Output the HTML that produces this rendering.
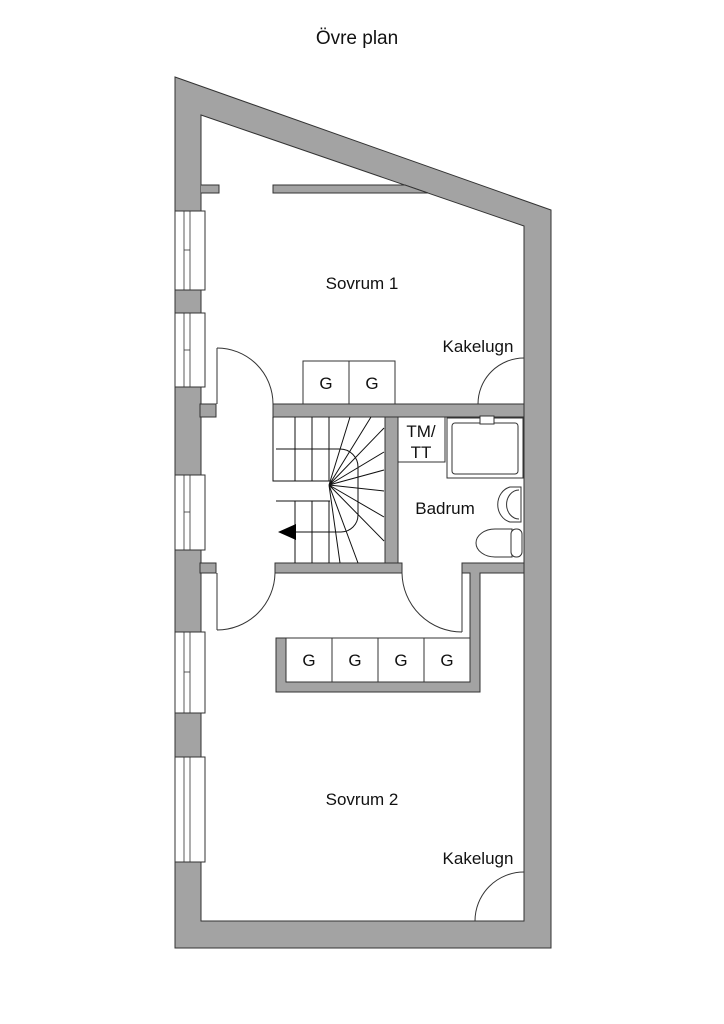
<!DOCTYPE html>
<html><head><meta charset="utf-8"><style>
html,body{margin:0;padding:0;background:#fff;}
svg{display:block;}
text{font-family:"Liberation Sans",sans-serif;fill:#111;}
</style></head><body>
<svg width="724" height="1024" viewBox="0 0 724 1024" xmlns="http://www.w3.org/2000/svg">
<rect width="724" height="1024" fill="#fff"/>
<text x="357" y="44" font-size="19" text-anchor="middle">Övre plan</text>
<g stroke="#333" stroke-width="1">
<!-- outer shell -->
<polygon points="175,77 551,210 551,948 175,948" fill="#a3a3a3"/>
<polygon points="201,115 524,226 524,921 201,921" fill="#fff"/>
<!-- top internal wall -->
<polygon points="273,185 405,185 428,193 273,193" fill="#a3a3a3"/>
<rect x="201" y="185" width="18" height="8" fill="#a3a3a3" stroke="none"/>
<polyline points="201,185 219,185 219,193 201,193" fill="none"/>
<!-- windows -->
<g fill="#fff">
<rect x="175" y="211" width="30" height="79"/>
<rect x="175" y="313" width="30" height="74"/>
<rect x="175" y="475" width="30" height="75"/>
<rect x="175" y="632" width="30" height="81"/>
<rect x="175" y="757" width="30" height="105"/>
</g>
<g fill="none" stroke-width="0.8">
<rect x="184" y="211" width="6" height="79"/><line x1="184" y1="250" x2="190" y2="250"/>
<rect x="184" y="313" width="6" height="74"/><line x1="184" y1="350" x2="190" y2="350"/>
<rect x="184" y="475" width="6" height="75"/><line x1="184" y1="512" x2="190" y2="512"/>
<rect x="184" y="632" width="6" height="81"/><line x1="184" y1="672" x2="190" y2="672"/>
<rect x="184" y="757" width="6" height="105"/>
</g>
<!-- stubs on left wall -->
<rect x="200" y="404" width="16" height="13" fill="#a3a3a3"/>
<rect x="200" y="563" width="16" height="10" fill="#a3a3a3"/>
<!-- horizontal wall mid -->
<rect x="273" y="404" width="251" height="13" fill="#a3a3a3"/>
<!-- stair right wall -->
<rect x="385" y="417" width="13" height="146" fill="#a3a3a3"/>
<!-- stair bottom wall -->
<rect x="275" y="563" width="127" height="10" fill="#a3a3a3"/>
<!-- bathroom bottom wall right -->
<polygon points="462,563 524,563 524,573 480,573 480,692 276,692 276,638 286,638 286,682 470,682 470,573 462,573" fill="#a3a3a3"/>
<!-- cabinets lower -->
<rect x="286" y="638" width="184" height="44" fill="#fff"/>
<line x1="332" y1="638" x2="332" y2="682"/><line x1="378" y1="638" x2="378" y2="682"/><line x1="424" y1="638" x2="424" y2="682"/>
<!-- cabinets upper -->
<rect x="303" y="361" width="92" height="43" fill="#fff"/>
<line x1="349" y1="361" x2="349" y2="404"/>
<!-- doors -->
<g fill="none">
<line x1="217" y1="348" x2="217" y2="404"/>
<path d="M217,348 A56,56 0 0 1 273,404"/>
<line x1="217" y1="573" x2="217" y2="630"/>
<path d="M217,630 A58,58 0 0 0 275,573"/>
<line x1="462" y1="573" x2="462" y2="632"/>
<path d="M402,573 A60,60 0 0 0 462,632"/>
<path d="M478,404 A46,46 0 0 1 524,358"/>
<path d="M475,921 A49,49 0 0 1 524,872"/>
</g>
<!-- stairs -->
<g fill="none" stroke="#111">
<polyline points="273,417 273,481 330,481"/>
<line x1="295" y1="417" x2="295" y2="481"/><line x1="312" y1="417" x2="312" y2="481"/><line x1="329" y1="417" x2="329" y2="481"/>
<line x1="276" y1="449" x2="330" y2="449"/>
<line x1="276" y1="501" x2="330" y2="501"/>
<line x1="295" y1="501" x2="295" y2="563"/><line x1="312" y1="501" x2="312" y2="563"/><line x1="329" y1="501" x2="329" y2="563"/>
<path d="M330,449 H340 A18,18 0 0 1 358,467 V515 A17,17 0 0 1 341,532 H296"/>
<path d="M329,485 L350,417 M329,485 L371,417 M329,485 L384,428 M329,485 L384,452 M329,485 L384,491 M329,485 L384,517 M329,485 L384,541 M329,485 L358,563 M329,485 L340,563 M329,485 L384,470"/>
</g>
<polygon points="278,532 296,524 296,540" fill="#000" stroke="none"/>
<!-- bathroom -->
<rect x="398" y="417" width="47" height="45" fill="#fff"/>
<rect x="447" y="418" width="76" height="60" fill="#fff"/>
<rect x="452" y="423" width="66" height="51" rx="3" fill="none"/>
<rect x="480" y="416" width="14" height="8" fill="#fff"/>
<path d="M521,487 H510 A16,18 0 0 0 510,522 H521 Z" fill="#fff"/>
<path d="M519,490 A12,14 0 0 0 519,519" fill="none"/>
<path d="M512,529 H495 A19,14 0 0 0 495,557 H512 Z" fill="#fff"/>
<rect x="511" y="529" width="11" height="28" rx="5" fill="#fff"/>
</g>
<g font-size="17">
<text x="362" y="289" text-anchor="middle">Sovrum 1</text>
<text x="478" y="352" text-anchor="middle">Kakelugn</text>
<text x="445" y="514" text-anchor="middle">Badrum</text>
<text x="362" y="805" text-anchor="middle">Sovrum 2</text>
<text x="478" y="864" text-anchor="middle">Kakelugn</text>
<text x="421" y="437" text-anchor="middle">TM/</text>
<text x="421" y="458" text-anchor="middle">TT</text>
<text x="326" y="389" text-anchor="middle">G</text>
<text x="372" y="389" text-anchor="middle">G</text>
<text x="309" y="666" text-anchor="middle">G</text>
<text x="355" y="666" text-anchor="middle">G</text>
<text x="401" y="666" text-anchor="middle">G</text>
<text x="447" y="666" text-anchor="middle">G</text>
</g>
</svg>
</body></html>
